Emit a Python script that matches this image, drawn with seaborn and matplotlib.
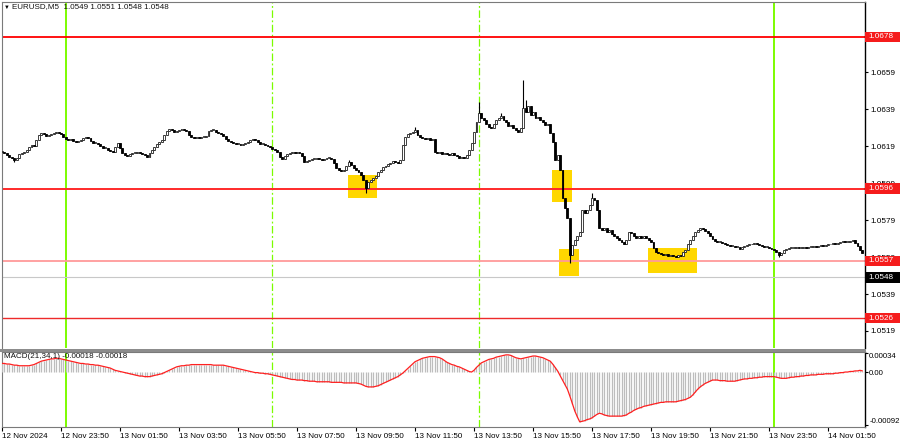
import numpy as np
import pandas as pd
import matplotlib
matplotlib.use("Agg")
import matplotlib.pyplot as plt
import matplotlib.transforms as mtransforms
from matplotlib.patches import Rectangle
import seaborn as sns

# ---------------- data ----------------
symbol_title = "EURUSD,M5  1.0549 1.0551 1.0548 1.0548"
macd_title = "MACD(21,34,1) -0.00018 -0.00018"
start_time = "2024-11-12 21:50"

close = [
    1.06158, 1.06153, 1.06142, 1.06131, 1.06126, 1.06115, 1.06126, 1.06147, 1.06153, 1.06158,
    1.06169, 1.06185, 1.06196, 1.06190, 1.06223, 1.06250, 1.06261, 1.06255, 1.06245, 1.06250,
    1.06255, 1.06261, 1.06266, 1.06261, 1.06255, 1.06239, 1.06228, 1.06223, 1.06228, 1.06217,
    1.06212, 1.06217, 1.06223, 1.06234, 1.06239, 1.06234, 1.06217, 1.06207, 1.06207, 1.06201,
    1.06190, 1.06180, 1.06180, 1.06169, 1.06163, 1.06158, 1.06185, 1.06207, 1.06180, 1.06153,
    1.06142, 1.06136, 1.06147, 1.06153, 1.06153, 1.06158, 1.06153, 1.06147, 1.06142, 1.06131,
    1.06153, 1.06169, 1.06185, 1.06201, 1.06212, 1.06223, 1.06250, 1.06272, 1.06282, 1.06277,
    1.06266, 1.06272, 1.06277, 1.06282, 1.06277, 1.06272, 1.06250, 1.06239, 1.06234, 1.06239,
    1.06234, 1.06239, 1.06239, 1.06245, 1.06272, 1.06277, 1.06277, 1.06266, 1.06261, 1.06255,
    1.06245, 1.06228, 1.06217, 1.06212, 1.06207, 1.06201, 1.06201, 1.06196, 1.06201, 1.06207,
    1.06212, 1.06223, 1.06228, 1.06223, 1.06212, 1.06201, 1.06201, 1.06196, 1.06190, 1.06185,
    1.06174, 1.06169, 1.06158, 1.06131, 1.06120, 1.06136, 1.06147, 1.06153, 1.06158, 1.06153,
    1.06158, 1.06153, 1.06136, 1.06104, 1.06109, 1.06115, 1.06120, 1.06120, 1.06126, 1.06120,
    1.06115, 1.06120, 1.06126, 1.06126, 1.06120, 1.06098, 1.06071, 1.06061, 1.06055, 1.06061,
    1.06082, 1.06104, 1.06088, 1.06071, 1.06061, 1.06050, 1.06034, 1.06007, 1.05963, 1.05996,
    1.06007, 1.06017, 1.06028, 1.06050, 1.06061, 1.06077, 1.06082, 1.06093, 1.06098, 1.06109,
    1.06104, 1.06098, 1.06115, 1.06196, 1.06239, 1.06255, 1.06261, 1.06266, 1.06277, 1.06250,
    1.06239, 1.06234, 1.06228, 1.06234, 1.06223, 1.06228, 1.06158, 1.06153, 1.06158, 1.06147,
    1.06153, 1.06147, 1.06142, 1.06153, 1.06142, 1.06136, 1.06126, 1.06131, 1.06126, 1.06142,
    1.06169, 1.06207, 1.06266, 1.06320, 1.06369, 1.06342, 1.06331, 1.06309, 1.06293, 1.06288,
    1.06309, 1.06331, 1.06342, 1.06353, 1.06331, 1.06320, 1.06299, 1.06304, 1.06288, 1.06277,
    1.06266, 1.06288, 1.06396, 1.06374, 1.06407, 1.06358, 1.06374, 1.06342, 1.06347, 1.06331,
    1.06320, 1.06304, 1.06309, 1.06261, 1.06212, 1.06115, 1.06142, 1.06061, 1.05909, 1.05855,
    1.05801, 1.05601, 1.05655, 1.05682, 1.05704, 1.05725, 1.05844, 1.05828, 1.05844, 1.05871,
    1.05909, 1.05898, 1.05844, 1.05747, 1.05736, 1.05747, 1.05725, 1.05736, 1.05714, 1.05704,
    1.05693, 1.05682, 1.05671, 1.05660, 1.05682, 1.05725, 1.05720, 1.05704, 1.05693, 1.05704,
    1.05693, 1.05704, 1.05693, 1.05682, 1.05671, 1.05639, 1.05617, 1.05612, 1.05606, 1.05601,
    1.05606, 1.05596, 1.05601, 1.05596, 1.05590, 1.05601, 1.05596, 1.05617, 1.05628, 1.05660,
    1.05682, 1.05704, 1.05725, 1.05736, 1.05747, 1.05741, 1.05731, 1.05720, 1.05704, 1.05687,
    1.05677, 1.05671, 1.05671, 1.05666, 1.05660, 1.05655, 1.05650, 1.05650, 1.05644, 1.05644,
    1.05633, 1.05644, 1.05650, 1.05655, 1.05660, 1.05660, 1.05666, 1.05660, 1.05655, 1.05650,
    1.05644, 1.05644, 1.05639, 1.05633, 1.05628, 1.05617, 1.05601, 1.05612, 1.05628, 1.05633,
    1.05639, 1.05639, 1.05639, 1.05644, 1.05639, 1.05639, 1.05644, 1.05639, 1.05644, 1.05644,
    1.05650, 1.05644, 1.05650, 1.05655, 1.05650, 1.05655, 1.05660, 1.05660, 1.05666, 1.05660,
    1.05666, 1.05671, 1.05677, 1.05671, 1.05671, 1.05677, 1.05682, 1.05666, 1.05650, 1.05628,
    1.05612,
]

# bars whose wick extends beyond the body
high_idx = [141, 168, 194, 203, 212, 213, 240]
high_val = [1.06115, 1.06293, 1.06428, 1.06369, 1.06548, 1.06439, 1.05936]
low_idx = [5, 148, 231, 316]
low_val = [1.06104, 1.05936, 1.05558, 1.05590]

# MACD main value per bar, in points (1e-5)
macd_points = [
    15, 15, 14, 14, 13, 12, 12, 11, 11, 11,
    11, 11, 12, 13, 15, 17, 19, 20, 21, 22,
    23, 23, 24, 24, 23, 22, 21, 20, 19, 18,
    17, 16, 15, 15, 14, 14, 13, 13, 12, 12,
    11, 10, 9, 8, 7, 5, 3, 2, 1, 0,
    -1, -2, -3, -4, -5, -6, -7, -7, -8, -8,
    -8, -7, -6, -5, -4, -3, -1, 1, 3, 5,
    7, 9, 10, 11, 11, 12, 12, 13, 13, 13,
    13, 13, 13, 13, 13, 13, 12, 12, 12, 12,
    12, 11, 10, 9, 8, 7, 6, 5, 4, 3,
    2, 1, 0, -1, -1, -2, -2, -3, -3, -4,
    -5, -6, -7, -8, -9, -10, -11, -12, -13, -13,
    -14, -14, -14, -15, -15, -16, -16, -16, -17, -17,
    -17, -17, -17, -17, -18, -18, -18, -18, -18, -19,
    -19, -19, -19, -19, -19, -20, -21, -23, -25, -26,
    -26, -26, -25, -24, -22, -20, -18, -16, -14, -12,
    -10, -8, -5, -2, 2, 6, 10, 14, 18, 20,
    22, 24, 25, 26, 27, 27, 27, 26, 25, 23,
    20, 17, 15, 13, 12, 10, 9, 7, 5, 3,
    1, 0, 3, 8, 12, 16, 18, 20, 22, 23,
    24, 26, 27, 28, 29, 30, 30, 29, 27, 25,
    24, 23, 24, 25, 26, 27, 28, 28, 27, 26,
    25, 23, 21, 19, 14, 8, 2, -6, -14, -22,
    -30, -42, -55, -68, -78, -87, -86, -85, -83, -82,
    -80, -77, -74, -72, -73, -75, -76, -77, -77, -77,
    -77, -77, -77, -76, -75, -72, -70, -67, -65, -63,
    -62, -60, -59, -58, -57, -56, -55, -54, -53, -53,
    -52, -52, -52, -52, -52, -51, -50, -49, -48, -46,
    -44, -40, -35, -30, -26, -23, -20, -18, -16, -14,
    -14, -14, -15, -15, -15, -16, -16, -16, -16, -15,
    -14, -13, -12, -12, -11, -11, -10, -10, -9, -9,
    -8, -8, -8, -8, -8, -9, -10, -11, -11, -11,
    -10, -9, -9, -8, -8, -7, -7, -6, -6, -5,
    -5, -5, -4, -4, -4, -3, -3, -3, -3, -2,
    -2, -1, -1, 0, 0, 1, 1, 2, 2, 3,
    2,
]

level_prices = [1.0678, 1.0596, 1.0557, 1.0526]
level_labels = ["1.0678", "1.0596", "1.0557", "1.0526"]
bid_price = 1.0548
bid_label = "1.0548"

price_ticks = [1.0679, 1.0659, 1.0639, 1.0619, 1.0599, 1.0579, 1.0559, 1.0539, 1.0519]
macd_ticks = [0.00034, 0.0, -0.00092]
macd_tick_labels = ["0.00034", "0.00", "-0.00092"]

time_tick_stamps = ["2024-11-12 21:50", "2024-11-12 23:50", "2024-11-13 01:50", "2024-11-13 03:50",
                    "2024-11-13 05:50", "2024-11-13 07:50", "2024-11-13 09:50", "2024-11-13 11:50",
                    "2024-11-13 13:50", "2024-11-13 15:50", "2024-11-13 17:50", "2024-11-13 19:50",
                    "2024-11-13 21:50", "2024-11-13 23:50", "2024-11-14 01:50"]
time_tick_labels = ["12 Nov 2024", "12 Nov 23:50", "13 Nov 01:50", "13 Nov 03:50", "13 Nov 05:50",
                    "13 Nov 07:50", "13 Nov 09:50", "13 Nov 11:50", "13 Nov 13:50", "13 Nov 15:50",
                    "13 Nov 17:50", "13 Nov 19:50", "13 Nov 21:50", "13 Nov 23:50", "14 Nov 01:50"]

day_lines = ["2024-11-13 00:00", "2024-11-14 00:00"]
session_lines = ["2024-11-13 07:00", "2024-11-13 14:00"]

# highlighted zones: (bar from, bar to, price top, price bottom)
zones = [
    (140.7, 152.5, 1.06033, 1.05909),
    (223.7, 231.9, 1.06061, 1.05887),
    (226.6, 234.7, 1.05633, 1.05487),
    (262.8, 282.7, 1.05638, 1.05503),
]

# ---------------- figure ----------------
sns.set_theme(style="white")
plt.rcParams["font.family"] = ["Liberation Sans", "DejaVu Sans"]

c = np.array(close)
n = len(c)
x = np.arange(n)
times = pd.date_range(start_time, periods=n, freq="5min")
o = np.r_[c[0], c[:-1]]
hi = np.maximum(o, c)
lo = np.minimum(o, c)
hi[high_idx] = high_val
lo[low_idx] = low_val
macd = np.array(macd_points) * 1e-5

W, H = 900, 441
fig = plt.figure(figsize=(W / 100, H / 100), dpi=100)
fig.patch.set_facecolor("white")

def fig_rect(left, top, right, bottom):
    return [left / W, 1 - bottom / H, (right - left) / W, (bottom - top) / H]

ax = fig.add_axes(fig_rect(2, 2, 865, 348))
ax2 = fig.add_axes(fig_rect(2, 352, 865, 427), sharex=ax)

xlim = (0.0, 351.05)
ax.set_xlim(*xlim)
ax.set_ylim(1.05098, 1.06969)
ax2.set_ylim(-0.00096, 0.00035)

for a in (ax, ax2):
    a.set_facecolor("white")
    a.grid(False)

# zones
for x0, x1, top, bot in zones:
    ax.add_patch(Rectangle((x0, bot), x1 - x0, top - bot, facecolor="#FFD700",
                           edgecolor="none", zorder=1))

# vertical lines
def pos_of(stamp):
    return times.get_loc(pd.Timestamp(stamp))

for a in (ax, ax2):
    for s in day_lines:
        a.axvline(pos_of(s), color="#7CFC00", lw=1.4, zorder=2)
    for s in session_lines:
        a.axvline(pos_of(s), color="#7CFC00", lw=0.9, ls=(0, (6, 2, 1.5, 2)), zorder=2)

# horizontal levels
level_colors = ["#ff0000", "#ff2a2a", "#ff9a9a", "#ee2a2a"]
level_widths = [1.3, 1.4, 1.3, 1.0]
for p, col, lw in zip(level_prices, level_colors, level_widths):
    ax.axhline(p, color=col, lw=lw, zorder=2)
ax.axhline(bid_price, color="#c8c8c8", lw=0.8, zorder=2)

# candles
ax.vlines(x, lo, hi, color="black", lw=0.8, zorder=3)
bull = c >= o
body_bot = np.minimum(o, c)
body_h = np.maximum(np.abs(c - o), 0.00003)
ax.bar(x[bull], body_h[bull], bottom=body_bot[bull], width=0.78, facecolor="white",
       edgecolor="#222222", linewidth=0.6, zorder=4)
ax.bar(x[~bull], body_h[~bull], bottom=body_bot[~bull], width=0.78, facecolor="black",
       edgecolor="black", linewidth=0.6, zorder=4)

# price axis
ax.yaxis.tick_right()
ax.set_yticks(price_ticks)
ax.set_yticklabels([f"{v:.4f}" for v in price_ticks])
ax.tick_params(axis="y", length=2.5, width=0.8, pad=1.5, labelsize=5.9, colors="black")
ax.tick_params(axis="x", bottom=False, labelbottom=False)

# price labels on the right
tr = mtransforms.blended_transform_factory(ax.transAxes, ax.transData)
box_h = 0.00056
box_w = 36 / 863
for p, lab in zip(level_prices, level_labels):
    ax.add_patch(Rectangle((1.0, p - box_h / 2), box_w, box_h, transform=tr, clip_on=False,
                           facecolor="#f51c1c", edgecolor="none", zorder=6))
    ax.text(1.0 + 3 / 863, p, lab, transform=tr, ha="left", va="center", color="white",
            fontsize=5.9, zorder=7, clip_on=False)
ax.add_patch(Rectangle((1.0, bid_price - box_h / 2), box_w, box_h, transform=tr, clip_on=False,
                       facecolor="black", edgecolor="none", zorder=6))
ax.text(1.0 + 3 / 863, bid_price, bid_label, transform=tr, ha="left", va="center",
        color="white", fontsize=5.9, zorder=7, clip_on=False)

# MACD panel
ax2.vlines(x, 0, macd, color="#bdbdbd", lw=0.9, zorder=3)
sns.lineplot(x=x, y=macd, ax=ax2, color="#ff2020", lw=0.9, zorder=4)
ax2.yaxis.tick_right()
ax2.set_yticks(macd_ticks)
ax2.set_yticklabels(macd_tick_labels)
ax2.tick_params(axis="y", length=2.0, width=0.8, pad=1.0, labelsize=5.6, colors="black")
ylabs = ax2.get_yticklabels()
ylabs[0].set_va("top")
ylabs[-1].set_va("bottom")

tick_pos = [pos_of(s) for s in time_tick_stamps]
ax2.set_xticks(tick_pos)
ax2.set_xticklabels(time_tick_labels, ha="left")
ax2.tick_params(axis="x", bottom=True, labelbottom=True, length=3, width=0.8, pad=1,
                labelsize=5.8, colors="black")
ax2.set_xlim(*xlim)
ax2.set_xlabel("")
ax2.set_ylabel("")

# spines
for a in (ax, ax2):
    for side in ("left", "top", "bottom"):
        a.spines[side].set_color("#7a7a7a")
        a.spines[side].set_linewidth(0.8)
    a.spines["right"].set_color("black")
    a.spines["right"].set_linewidth(1.0)
ax.spines["bottom"].set_visible(False)

# separator between panels
fig.patches.append(Rectangle((0, 1 - 352 / H), 866 / W, 3.5 / H, transform=fig.transFigure,
                             facecolor="#8c8c8c", edgecolor="none"))

# titles
fig.text(4 / W, 1 - 7 / H, "\u25BC", fontsize=4.2, va="center", ha="left", color="black")
fig.text(12 / W, 1 - 7 / H, symbol_title, fontsize=5.8, va="center", ha="left", color="#111111")
fig.text(4 / W, 1 - 357 / H, macd_title, fontsize=5.8, va="center", ha="left", color="#111111")

fig.savefig("out.png", dpi=100, facecolor="white")
